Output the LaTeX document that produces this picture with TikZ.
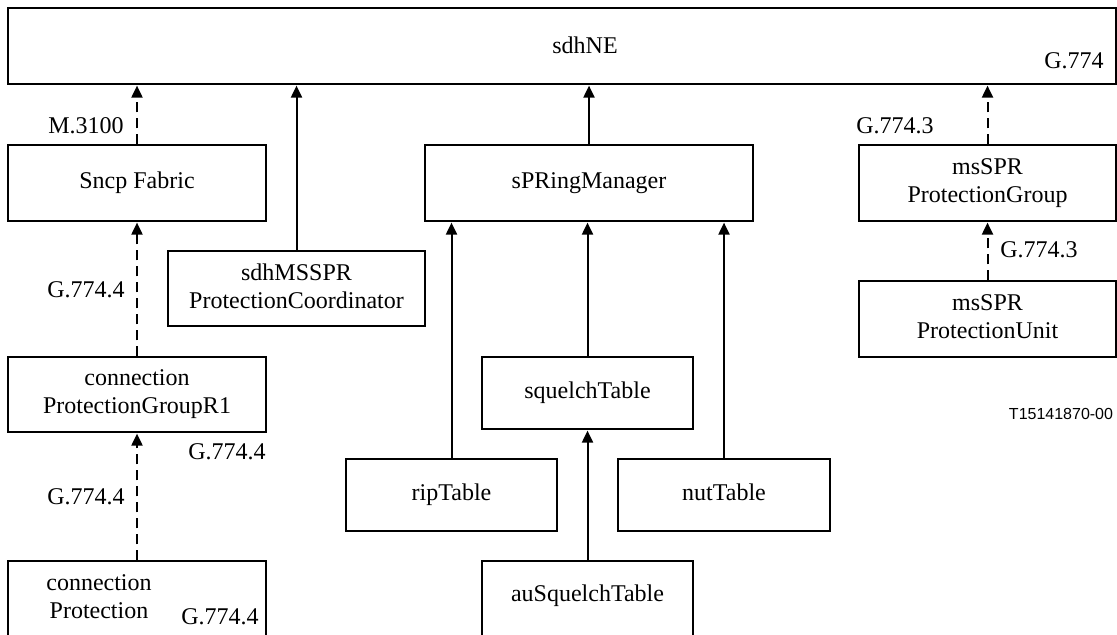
\documentclass[tikz,border=0pt]{standalone}
\usepackage{fontspec}
\setmainfont{Liberation Serif}
\newfontfamily\figfont{Liberation Sans}
\usetikzlibrary{arrows.meta}

\begin{document}
\begin{tikzpicture}[x=0.5pt, y=-0.5pt, >={Triangle[length=6pt,width=5.5pt]}, shorten >=0.5pt,
  box/.style={draw, line width=0.6pt, inner sep=0pt, align=center, text depth=2.6pt, font=\fontsize{12}{14}\selectfont},
  lbl/.style={inner sep=0pt, align=center, font=\fontsize{12}{14}\selectfont},
  link/.style={->, line width=1pt},
  dlink/.style={link, dash pattern=on 5pt off 3pt}]

\useasboundingbox (0,0) rectangle (1117,634);

\node[box, minimum width=554pt, minimum height=38pt] (sdhne) at (562,46) {};
\node[lbl] (sdhnetext) at (585,45) {sdhNE};
\node[box, minimum width=129pt, minimum height=38pt] (sncp) at (137,183) {Sncp Fabric};
\node[box, minimum width=128.5pt, minimum height=37.5pt] (coord) at (296.5,288.5) {sdhMSSPR\\ProtectionCoordinator};
\node[box, minimum width=164pt, minimum height=38pt] (spring) at (589,183) {sPRingManager};
\node[box, minimum width=128.5pt, minimum height=38pt] (msgroup) at (987.5,183) {msSPR\\ProtectionGroup};
\node[box, minimum width=128.5pt, minimum height=38pt] (msunit) at (987.5,319) {msSPR\\ProtectionUnit};
\node[box, minimum width=129pt, minimum height=37.5pt] (cpgr1) at (137,394.5) {connection\\ProtectionGroupR1};
\node[box, minimum width=129pt, minimum height=40pt] (cprot) at (137,601) {};
\node[lbl] (cprottext) at (99,597) {connection\\Protection};
\node[box, minimum width=105.5pt, minimum height=36pt] (squelch) at (587.5,393) {squelchTable};
\node[box, minimum width=105.5pt, minimum height=36pt] (rip) at (451.5,495) {ripTable};
\node[box, minimum width=106pt, minimum height=36pt] (nut) at (724,495) {nutTable};
\node[box, minimum width=105.5pt, minimum height=40pt] (ausquelch) at (587.5,601) {};
\node[lbl] (ausquelchtext) at (587.5,596) {auSquelchTable};

\node[lbl] (m3100) at (86,126) {M.3100};
\node[lbl] (g774) at (1074,61) {G.774};
\node[lbl] (g7743a) at (895,126) {G.774.3};
\node[lbl] (g7743b) at (1039,250) {G.774.3};
\node[lbl] (g7744a) at (86,290) {G.774.4};
\node[lbl] (g7744b) at (227,452) {G.774.4};
\node[lbl] (g7744c) at (86,497) {G.774.4};
\node[lbl] (g7744d) at (220,617) {G.774.4};
\node[inner sep=0pt, font=\figfont\fontsize{8}{9}\selectfont] (figno) at (1061,414) {T15141870-00};

\path
(sncp.north) edge[dlink] (sncp.north |- sdhne.south)
(coord.north) edge[link] (coord.north |- sdhne.south)
(spring.north) edge[link] (spring.north |- sdhne.south)
(msgroup.north) edge[dlink] (msgroup.north |- sdhne.south)

(msunit.north) edge[dlink] (msgroup.south)
(cpgr1.north) edge[dlink] (sncp.south)
(cprot.north) edge[dlink] (cpgr1.south)

(rip.north) edge[link] (rip.north |- spring.south)
(squelch.north) edge[link] (squelch.north |- spring.south)
(nut.north) edge[link] (nut.north |- spring.south)
(ausquelch.north) edge[link] (squelch.south);

\end{tikzpicture}
\end{document}
